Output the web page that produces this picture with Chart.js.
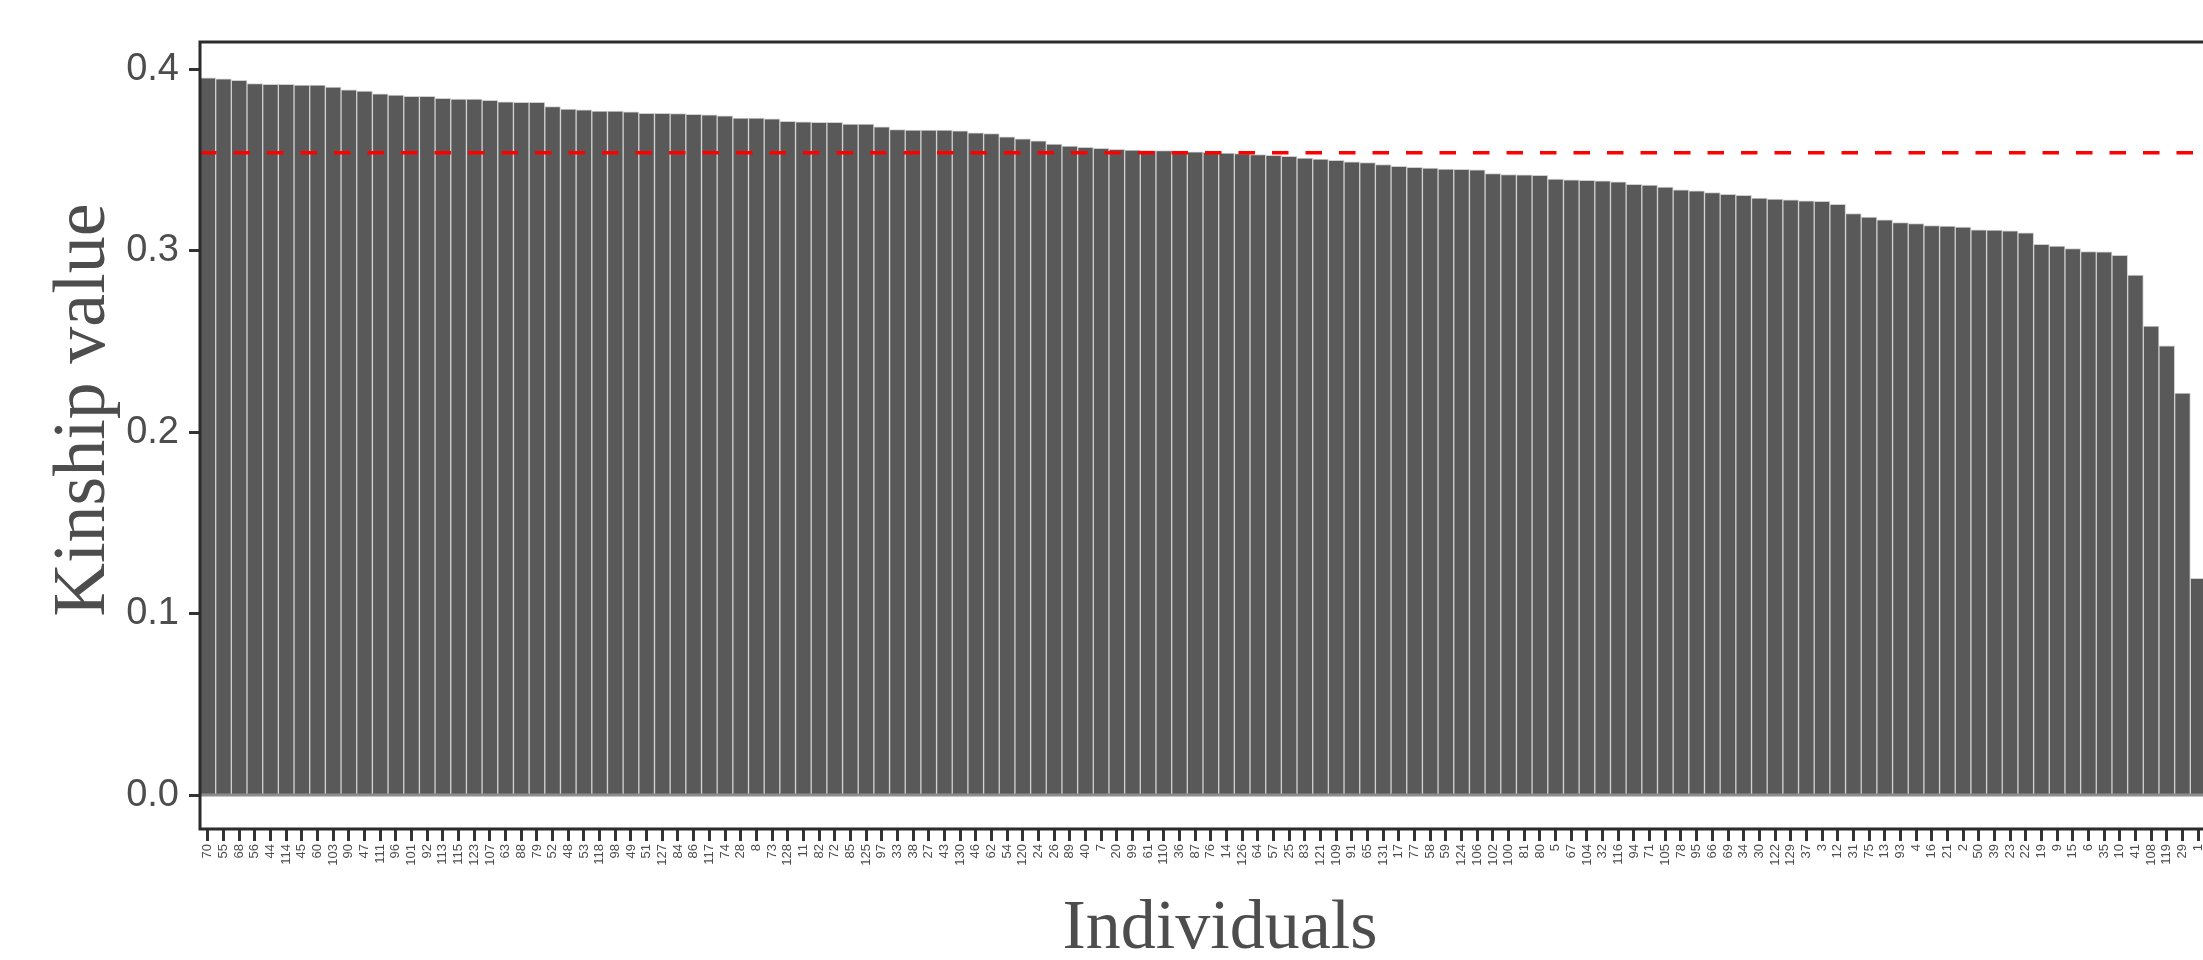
<!DOCTYPE html>
<html>
<head>
<meta charset="utf-8">
<script src="https://cdn.jsdelivr.net/npm/chart.js@4/dist/chart.umd.min.js"></script>
<style>
  html, body { margin: 0; padding: 0; background: #fff; overflow: hidden; }
  #wrap { width: 2240px; height: 960px; }
</style>
</head>
<body>
<div id="wrap"><canvas id="kinshipChart" width="2240" height="960"></canvas></div>
<script>
// individuals, sorted by kinship value (the right end of the panel is cut off)
const individuals = [
  "70", "55", "68", "56", "44", "114", "45", "60", "103", "90", "47", "111", "96", "101", "92", "113",
  "115", "123", "107", "63", "88", "79", "52", "48", "53", "118", "98", "49", "51", "127", "84", "86",
  "117", "74", "28", "8", "73", "128", "11", "82", "72", "85", "125", "97", "33", "38", "27", "43",
  "130", "46", "62", "54", "120", "24", "26", "89", "40", "7", "20", "99", "61", "110", "36", "87",
  "76", "14", "126", "64", "57", "25", "83", "121", "109", "91", "65", "131", "17", "77", "58", "59",
  "124", "106", "102", "100", "81", "80", "5", "67", "104", "32", "116", "94", "71", "105", "78", "95",
  "66", "69", "34", "30", "122", "129", "37", "3", "12", "31", "75", "13", "93", "4", "16", "21",
  "2", "50", "39", "23", "22", "19", "9", "15", "6", "35", "10", "41", "108", "119", "29", "1"
];

const kinship = [
  0.3952, 0.3947, 0.3939, 0.3921, 0.3917, 0.3917, 0.3913, 0.3912, 0.3901, 0.3886, 0.3880, 0.3864, 0.3858, 0.3851, 0.3851, 0.3840,
  0.3835, 0.3835, 0.3829, 0.3820, 0.3818, 0.3818, 0.3794, 0.3780, 0.3776, 0.3770, 0.3770, 0.3765, 0.3757, 0.3757, 0.3755, 0.3752,
  0.3748, 0.3743, 0.3731, 0.3731, 0.3726, 0.3713, 0.3710, 0.3708, 0.3708, 0.3697, 0.3697, 0.3682, 0.3667, 0.3665, 0.3664, 0.3664,
  0.3660, 0.3650, 0.3645, 0.3628, 0.3616, 0.3606, 0.3587, 0.3577, 0.3570, 0.3564, 0.3559, 0.3555, 0.3551, 0.3551, 0.3549, 0.3545,
  0.3542, 0.3538, 0.3535, 0.3530, 0.3525, 0.3520, 0.3510, 0.3505, 0.3498, 0.3490, 0.3485, 0.3475, 0.3465, 0.3460, 0.3455, 0.3450,
  0.3448, 0.3445, 0.3425, 0.3420, 0.3418, 0.3415, 0.3395, 0.3390, 0.3388, 0.3385, 0.3380, 0.3365, 0.3362, 0.3350, 0.3335, 0.3330,
  0.3320, 0.3310, 0.3305, 0.3290, 0.3285, 0.3280, 0.3275, 0.3272, 0.3255, 0.3205, 0.3185, 0.3170, 0.3155, 0.3150, 0.3138, 0.3135,
  0.3130, 0.3115, 0.3113, 0.3110, 0.3098, 0.3035, 0.3025, 0.3012, 0.2995, 0.2993, 0.2975, 0.2865, 0.2585, 0.2475, 0.2215, 0.1195
];

const threshold = 0.354;
const yTicks = [0, 0.1, 0.2, 0.3, 0.4];

// zero line, dashed threshold, panel frame and the two axis titles
const panelExtras = {
  id: "panelExtras",
  afterDatasetsDraw(chart) {
    const { ctx, chartArea: a, scales } = chart;
    const y0 = scales.y.getPixelForValue(0);
    const yT = scales.y.getPixelForValue(threshold);
    ctx.save();

    ctx.strokeStyle = "#8c8c8c";
    ctx.lineWidth = 3;
    ctx.beginPath();
    ctx.moveTo(a.left, y0);
    ctx.lineTo(a.right, y0);
    ctx.stroke();

    ctx.strokeStyle = "#ff0000";
    ctx.lineWidth = 3.5;
    ctx.setLineDash([16.5, 17]);
    ctx.beginPath();
    ctx.moveTo(a.left, yT);
    ctx.lineTo(a.right, yT);
    ctx.stroke();
    ctx.setLineDash([]);

    // frame: top, left, bottom (right side runs past the picture)
    ctx.strokeStyle = "#2b2b2b";
    ctx.lineWidth = 3;
    ctx.beginPath();
    ctx.moveTo(a.right + 20, a.top);
    ctx.lineTo(a.left, a.top);
    ctx.lineTo(a.left, a.bottom);
    ctx.lineTo(a.right + 20, a.bottom);
    ctx.stroke();

    ctx.fillStyle = "#4d4d4d";
    ctx.textAlign = "center";
    ctx.textBaseline = "alphabetic";
    ctx.font = '70px "Liberation Serif"';
    ctx.fillText("Individuals", 1220, 948);
    ctx.font = '74px "Liberation Serif"';
    ctx.translate(104, 410);
    ctx.rotate(-Math.PI / 2);
    ctx.fillText("Kinship value", 0, 0);
    ctx.restore();
  }
};

const ctx = document.getElementById("kinshipChart").getContext("2d");
new Chart(ctx, {
  type: "bar",
  data: {
    labels: individuals,
    datasets: [{
      data: kinship,
      backgroundColor: "#595959",
      borderColor: "#cfcfcf",
      borderWidth: 1,
      barPercentage: 1,
      categoryPercentage: 1
    }]
  },
  options: {
    responsive: false,
    animation: false,
    layout: { padding: { top: 42, right: 34, left: 0, bottom: 0 } },
    plugins: { legend: { display: false }, tooltip: { enabled: false } },
    scales: {
      x: {
        offset: true,
        border: { display: false },
        grid: { offset: false, drawOnChartArea: false, tickLength: 12, tickWidth: 3, tickColor: "#333333" },
        ticks: {
          autoSkip: false, maxRotation: 90, minRotation: 90, padding: 3,
          color: "#4d4d4d", font: { family: "Liberation Sans", size: 13 }
        },
        afterFit: s => { s.height = 131; }
      },
      y: {
        min: -0.0187,
        max: 0.415,
        border: { display: false },
        grid: { drawOnChartArea: false, tickLength: 11, tickWidth: 3, tickColor: "#333333" },
        afterBuildTicks: s => { s.ticks = yTicks.map(v => ({ value: v })); },
        ticks: {
          padding: 10, color: "#4d4d4d",
          font: { family: "Liberation Sans", size: 38 },
          callback: v => v.toFixed(1)
        },
        afterFit: s => { s.width = 200; }
      }
    }
  },
  plugins: [panelExtras]
});
</script>
</body>
</html>
